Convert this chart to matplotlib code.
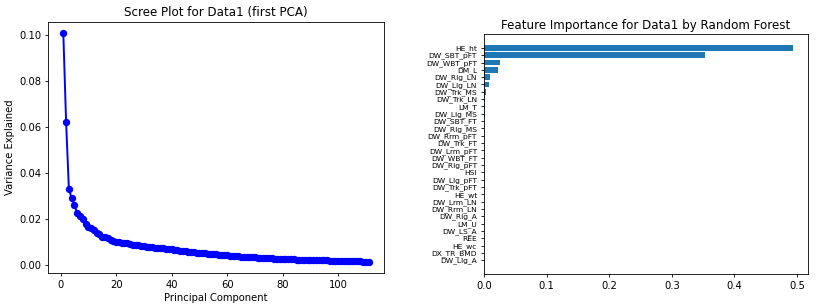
import numpy as np
import matplotlib
matplotlib.use("Agg")
import matplotlib.pyplot as plt

# Scree plot values (explained variance ratio per principal component)
variance_ratio = [
    0.1007, 0.0623, 0.0332, 0.0291, 0.0263, 0.0226, 0.0214, 0.0200, 0.0178, 0.0168,
    0.0163, 0.0152, 0.0142, 0.0135, 0.0125, 0.0121, 0.0117, 0.0111, 0.0107, 0.0103,
    0.0100, 0.0098, 0.0097, 0.0095, 0.0092, 0.0090, 0.0088, 0.0086, 0.0084, 0.0082,
    0.0081, 0.0080, 0.0078, 0.0077, 0.0076, 0.0074, 0.0073, 0.0072, 0.0071, 0.0070,
    0.0068, 0.0066, 0.0064, 0.0062, 0.0060, 0.0059, 0.0057, 0.0056, 0.0055, 0.0054,
    0.0053, 0.0052, 0.0050, 0.0049, 0.0048, 0.0047, 0.0046, 0.0045, 0.0044, 0.0043,
    0.0042, 0.0041, 0.0040, 0.0039, 0.0038, 0.0037, 0.0036, 0.0036, 0.0035, 0.0034,
    0.0033, 0.0033, 0.0032, 0.0031, 0.0030, 0.0030, 0.0029, 0.0028, 0.0028, 0.0027,
    0.0027, 0.0026, 0.0026, 0.0026, 0.0025, 0.0025, 0.0024, 0.0024, 0.0024, 0.0023,
    0.0023, 0.0022, 0.0022, 0.0021, 0.0021, 0.0021, 0.0020, 0.0020, 0.0020, 0.0019,
    0.0019, 0.0019, 0.0018, 0.0018, 0.0018, 0.0017, 0.0017, 0.0017, 0.0016, 0.0016,
    0.0016,
]
components = list(range(1, len(variance_ratio) + 1))

# Random forest feature importances, top feature first
feature_names = [
    "HE_ht", "DW_SBT_pFT", "DW_WBT_pFT", "DM_L", "DW_Rlg_LN", "DW_Llg_LN",
    "DW_Trk_MS", "DW_Trk_LN", "LM_T", "DW_Llg_MS", "DW_SBT_FT", "DW_Rlg_MS",
    "DW_Rrm_pFT", "DW_Trk_FT", "DW_Lrm_pFT", "DW_WBT_FT", "DW_Rlg_pFT", "HSI",
    "DW_Llg_pFT", "DW_Trk_pFT", "HE_wt", "DW_Lrm_LN", "DW_Rrm_LN", "DW_Rlg_A",
    "LM_U", "DW_LS_A", "REE", "HE_wc", "DX_TR_BMD", "DW_Llg_A",
]
importances = [
    0.493, 0.353, 0.026, 0.022, 0.0089, 0.0087,
    0.0027, 0.0012, 0.0010, 0.0009, 0.0007, 0.0006,
    0.0005, 0.0005, 0.0004, 0.0004, 0.0004, 0.0003,
    0.0003, 0.0003, 0.0002, 0.0002, 0.0002, 0.0002,
    0.0001, 0.0001, 0.0001, 0.0001, 0.00005, 0.00003,
]

plt.rcParams["axes.linewidth"] = 0.6
plt.rcParams["xtick.major.width"] = 0.6
plt.rcParams["ytick.major.width"] = 0.6
plt.rcParams["xtick.major.size"] = 2.5
plt.rcParams["ytick.major.size"] = 2.5
plt.rcParams["xtick.major.pad"] = 2.5
plt.rcParams["ytick.major.pad"] = 2.5

fig = plt.figure(figsize=(8.17, 3.08), dpi=100)

# Scree plot
ax1 = fig.add_axes([0.0588, 0.1136, 0.4113, 0.815])
ax1.plot(components, variance_ratio, marker="o", color="blue", linewidth=1.4, markersize=4.3)
ax1.set_title("Scree Plot for Data1 (first PCA)", fontsize=8.6, pad=4)
ax1.set_xlabel("Principal Component", fontsize=7.2, labelpad=2)
ax1.set_ylabel("Variance Explained", fontsize=7.2, labelpad=3)
ax1.tick_params(labelsize=7.2)

# Feature importance
ax2 = fig.add_axes([0.5924, 0.1104, 0.3966, 0.779])
pos = np.arange(len(importances))[::-1]
ax2.barh(pos, importances, color="#1f77b4", height=0.8)
ax2.set_yticks(pos)
ax2.set_yticklabels(feature_names, fontsize=5.4)
ax2.set_title("Feature Importance for Data1 by Random Forest", fontsize=8.6, pad=4)
ax2.tick_params(axis="x", labelsize=7.2)

fig.savefig("out.png", dpi=100)
